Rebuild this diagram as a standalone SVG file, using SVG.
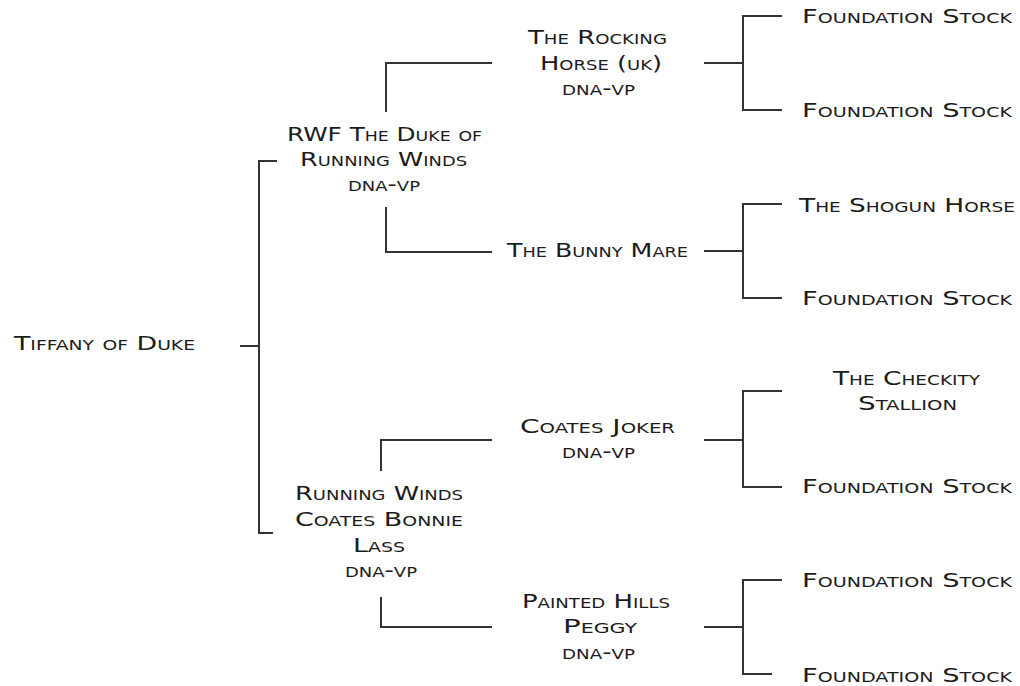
<svg xmlns="http://www.w3.org/2000/svg" width="1020" height="686" viewBox="0 0 1020 686">
<style>
text{font-family:"DejaVu Sans","Liberation Sans",sans-serif;font-size:20px;font-variant:small-caps;fill:#1c1c1c;}
.c{fill:none;stroke:#333;stroke-width:2;}
</style>
<rect width="1020" height="686" fill="#fff"/>
<g id="connectors" class="c">
<path d="M240,346H259M277,161H259V533H273"/>
<path d="M386,112V63H492M386,207V252H492"/>
<path d="M381,471V440H492M381,597V627H492"/>
<path d="M704,63H743M782,16H743V110H782"/>
<path d="M704,251H743M782,204H743V298H782"/>
<path d="M704,440H743M782,391H743V487H782"/>
<path d="M704,627H743M782,580H743V674H772"/>
</g>
<g id="tiffany"><text x="14" y="350" textLength="181" lengthAdjust="spacingAndGlyphs">Tiffany of Duke</text></g>
<g id="duke">
<text x="287" y="141" textLength="195" lengthAdjust="spacingAndGlyphs">RWF The Duke of</text>
<text x="300" y="166" textLength="167" lengthAdjust="spacingAndGlyphs">Running Winds</text>
<text x="348" y="191" textLength="72" lengthAdjust="spacingAndGlyphs">dna-vp</text>
</g>
<g id="bonnie">
<text x="295" y="500" textLength="168" lengthAdjust="spacingAndGlyphs">Running Winds</text>
<text x="295" y="526" textLength="168" lengthAdjust="spacingAndGlyphs">Coates Bonnie</text>
<text x="353" y="552" textLength="52" lengthAdjust="spacingAndGlyphs">Lass</text>
<text x="345" y="577" textLength="72" lengthAdjust="spacingAndGlyphs">dna-vp</text>
</g>
<g id="rocking">
<text x="528" y="44" textLength="139" lengthAdjust="spacingAndGlyphs">The Rocking</text>
<text x="540" y="70" textLength="122" lengthAdjust="spacingAndGlyphs">Horse (uk)</text>
<text x="562" y="95" textLength="73" lengthAdjust="spacingAndGlyphs">dna-vp</text>
</g>
<g id="bunny"><text x="507" y="257" textLength="181" lengthAdjust="spacingAndGlyphs">The Bunny Mare</text></g>
<g id="joker">
<text x="520" y="433" textLength="155" lengthAdjust="spacingAndGlyphs">Coates Joker</text>
<text x="562" y="458" textLength="73" lengthAdjust="spacingAndGlyphs">dna-vp</text>
</g>
<g id="peggy">
<text x="522" y="608" textLength="148" lengthAdjust="spacingAndGlyphs">Painted Hills</text>
<text x="563" y="633" textLength="74" lengthAdjust="spacingAndGlyphs">Peggy</text>
<text x="562" y="659" textLength="73" lengthAdjust="spacingAndGlyphs">dna-vp</text>
</g>
<g id="fs1"><text x="802" y="23" textLength="210" lengthAdjust="spacingAndGlyphs">Foundation Stock</text></g>
<g id="fs2"><text x="802" y="117" textLength="210" lengthAdjust="spacingAndGlyphs">Foundation Stock</text></g>
<g id="shogun"><text x="799" y="212" textLength="216" lengthAdjust="spacingAndGlyphs">The Shogun Horse</text></g>
<g id="fs3"><text x="802" y="305" textLength="210" lengthAdjust="spacingAndGlyphs">Foundation Stock</text></g>
<g id="checkity">
<text x="833" y="385" textLength="147" lengthAdjust="spacingAndGlyphs">The Checkity</text>
<text x="858" y="410" textLength="99" lengthAdjust="spacingAndGlyphs">Stallion</text>
</g>
<g id="fs4"><text x="802" y="493" textLength="210" lengthAdjust="spacingAndGlyphs">Foundation Stock</text></g>
<g id="fs5"><text x="802" y="587" textLength="210" lengthAdjust="spacingAndGlyphs">Foundation Stock</text></g>
<g id="fs6"><text x="802" y="682" textLength="210" lengthAdjust="spacingAndGlyphs">Foundation Stock</text></g>
</svg>
